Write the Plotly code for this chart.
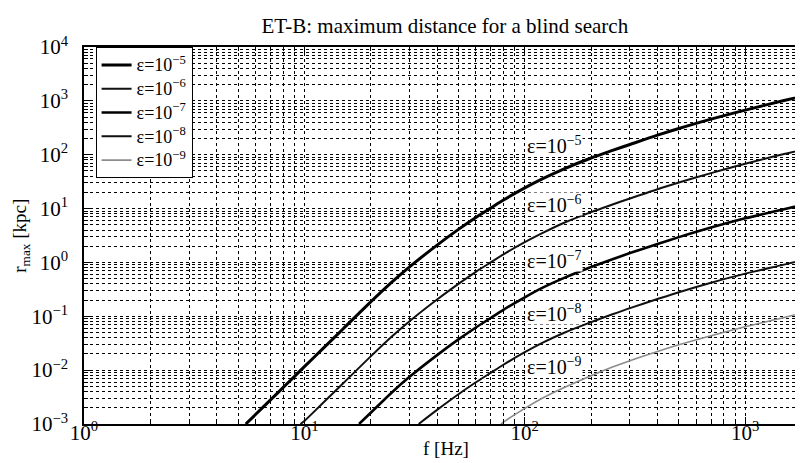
import plotly.graph_objects as go

# ---- data (f in Hz, r_max in kpc) ----
f_e5 = [5.42, 6, 7, 8, 9, 10, 12, 15, 20, 25, 30, 40, 50, 60, 70, 80, 100, 120, 150, 200, 250, 300, 400, 500, 700, 1000, 1500, 2000]
r_e5 = [0.001, 0.0015, 0.00278, 0.00474, 0.00759, 0.0116, 0.024, 0.0586, 0.185, 0.434, 0.826, 2.10, 4.11, 6.84, 10.2, 14.4, 24.2, 35.5, 54.2, 86.9, 120, 155, 231, 307, 458, 674, 1012, 1340]

f_e6 = [9.6, 10, 12, 15, 20, 25, 30, 40, 50, 60, 70, 80, 100, 120, 150, 200, 250, 300, 400, 500, 700, 1000, 1500, 2000]
r_e6 = [0.001, 0.00114, 0.00235, 0.0057, 0.018, 0.0425, 0.081, 0.205, 0.40, 0.67, 1.0, 1.41, 2.38, 3.5, 5.4, 8.6, 11.9, 15.4, 22.9, 30.4, 45.5, 68, 103, 135]

f_e7 = [17.7, 20, 25, 30, 40, 50, 60, 70, 80, 100, 120, 150, 200, 250, 300, 400, 500, 700, 1000, 1500, 2000]
r_e7 = [0.001, 0.00162, 0.0039, 0.0075, 0.019, 0.0372, 0.062, 0.093, 0.132, 0.225, 0.336, 0.51, 0.82, 1.15, 1.49, 2.2, 2.95, 4.45, 6.6, 9.75, 12.9]

f_e8 = [33, 40, 50, 60, 70, 80, 100, 120, 150, 200, 250, 300, 400, 500, 700, 1000, 1500, 2000]
r_e8 = [0.001, 0.00183, 0.00357, 0.00595, 0.0089, 0.0126, 0.0215, 0.032, 0.049, 0.078, 0.109, 0.142, 0.209, 0.28, 0.42, 0.62, 0.91, 1.2]

f_e9 = [78, 80, 100, 120, 150, 200, 250, 300, 400, 500, 700, 1000, 1500, 2000]
r_e9 = [0.001, 0.00108, 0.00195, 0.0030, 0.0047, 0.0079, 0.0114, 0.0150, 0.0222, 0.0295, 0.0435, 0.064, 0.095, 0.128]

series_names = ["ε=10<sup>−5</sup>", "ε=10<sup>−6</sup>", "ε=10<sup>−7</sup>", "ε=10<sup>−8</sup>", "ε=10<sup>−9</sup>"]

x_tickvals = [1, 10, 100, 1000]
x_ticktext = ["10<sup>0</sup>", "10<sup>1</sup>", "10<sup>2</sup>", "10<sup>3</sup>"]
y_tickvals = [0.001, 0.01, 0.1, 1, 10, 100, 1000, 10000]
y_ticktext = ["10<sup>−3</sup>", "10<sup>−2</sup>", "10<sup>−1</sup>", "10<sup>0</sup>",
              "10<sup>1</sup>", "10<sup>2</sup>", "10<sup>3</sup>", "10<sup>4</sup>"]

# ---- styling ----
FONT = "Liberation Serif, Times New Roman, serif"
styles = [("#000000", 3.0), ("#111111", 2.0), ("#000000", 2.6), ("#111111", 2.0), ("#8c8c8c", 1.6)]
data = [(f_e5, r_e5), (f_e6, r_e6), (f_e7, r_e7), (f_e8, r_e8), (f_e9, r_e9)]

fig = go.Figure()
for (f, r), name, (col, w) in zip(data, series_names, styles):
    fig.add_trace(go.Scatter(
        x=f, y=r, mode="lines",
        name='<span style="font-size:18px">' + name + '</span>',
        line=dict(color=col, width=w, shape="spline", smoothing=0.8),
        hoverinfo="skip"))

x_minor = [m * 10 ** k for k in range(0, 4) for m in range(2, 10)]
y_minor = [m * 10.0 ** k for k in range(-3, 4) for m in range(2, 10)]

axis_common = dict(
    type="log", showline=True, linecolor="black", linewidth=1.5, mirror="ticks",
    ticks="inside", ticklen=7, tickcolor="black", tickwidth=1,
    showgrid=True, gridcolor="black", gridwidth=1, griddash="dot",
    zeroline=False, tickfont=dict(family=FONT, size=21, color="black"),
)
minor_common = dict(tickmode="array", ticks="inside", ticklen=4, tickcolor="black",
                    showgrid=True, gridcolor="black", gridwidth=1, griddash="dot")

fig.update_layout(
    width=803, height=463,
    margin=dict(l=76, r=1, t=39, b=47),
    paper_bgcolor="white", plot_bgcolor="white",
    font=dict(family=FONT, color="black"),
    title=dict(text="ET-B: maximum distance for a blind search", x=0.544, xanchor="center",
               y=0.961, yanchor="middle", font=dict(family=FONT, size=21, color="black")),
    xaxis=dict(range=[0, 3.285], tickmode="array", tickvals=x_tickvals, ticktext=x_ticktext,
               minor=dict(tickvals=x_minor, **minor_common),
               ticklabelstandoff=-11, **axis_common),
    yaxis=dict(range=[-3, 4], tickmode="array", tickvals=y_tickvals, ticktext=y_ticktext,
               minor=dict(tickvals=y_minor, **minor_common),
               ticklabelstandoff=10, **axis_common),
    legend=dict(x=0.016, y=1.0, xanchor="left", yanchor="top",
                bgcolor="white", bordercolor="black", borderwidth=1,
                font=dict(family=FONT, size=16, color="black"),
                tracegroupgap=0, itemwidth=30),
    showlegend=True,
)

# axis titles placed as in the reference
fig.add_annotation(text="f [Hz]", xref="paper", yref="paper", x=0.5, y=0, xanchor="center",
                   yanchor="middle", yshift=-24, showarrow=False,
                   font=dict(family=FONT, size=19, color="black"))
fig.add_annotation(text="r<sub>max</sub> [kpc]", xref="paper", yref="paper", x=-0.088, y=0.5,
                   xanchor="center", yanchor="middle", textangle=-90, showarrow=False,
                   font=dict(family=FONT, size=19, color="black"))

# curve labels
label_pos = [(2.134, 2.18), (2.134, 1.09), (2.136, 0.04), (2.136, -0.93), (2.136, -1.92)]
for name, (lx, ly) in zip(series_names, label_pos):
    fig.add_annotation(x=lx, y=ly, xref="x", yref="y", text=name, showarrow=False,
                       font=dict(family=FONT, size=20, color="black"),
                       bgcolor="white", borderpad=0, height=22, valign="middle")

fig.write_html("out.html", config={"displayModeBar": False})
